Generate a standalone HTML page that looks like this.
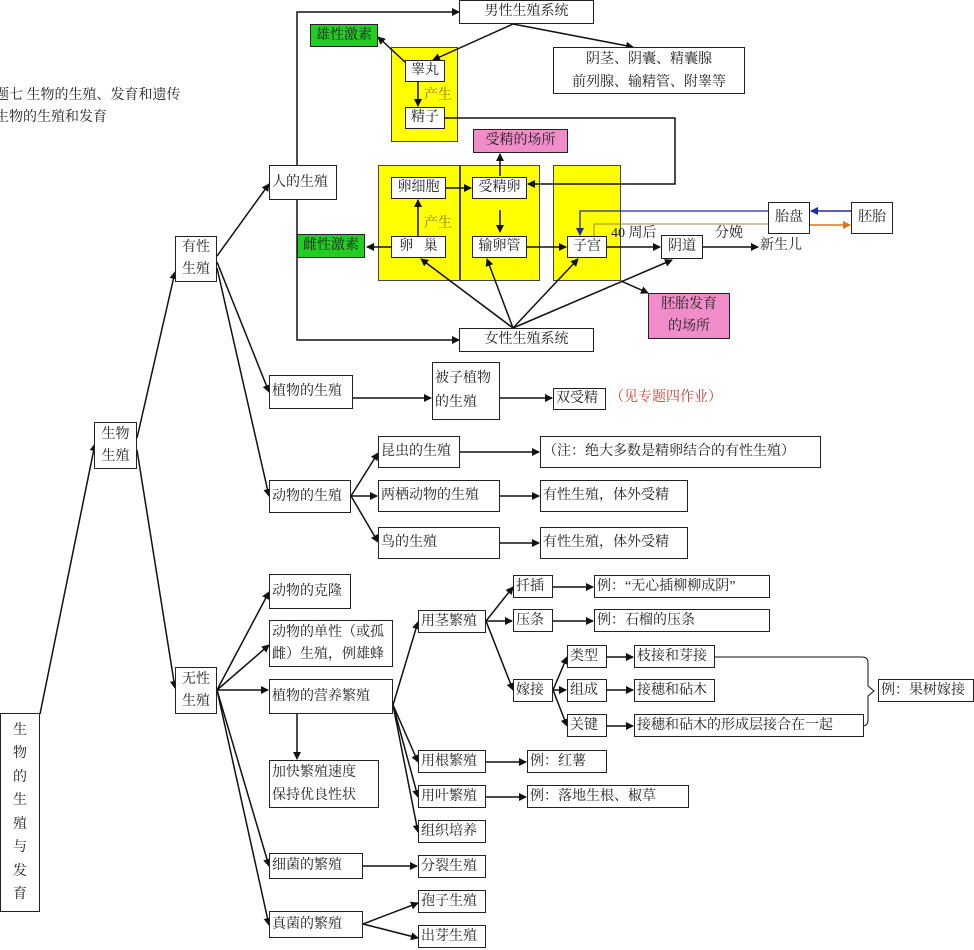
<!DOCTYPE html>
<html><head><meta charset="utf-8"><style>
body{margin:0;width:974px;height:950px;background:#fff;position:relative;overflow:hidden;font-family:"Liberation Serif","Noto Serif CJK SC",serif;font-size:14px;color:#222}
.b{position:absolute;border:1px solid #222;background:#fff;box-sizing:border-box;padding:0 2px;line-height:20px;white-space:nowrap;display:flex;align-items:center}
.y{position:absolute;background:#ffff00;border:1px solid #444;box-sizing:border-box}
.g{background:#22cc22}
.p{background:#f08cc8}
.c{justify-content:center;text-align:center}
.t{position:absolute;white-space:nowrap;line-height:20px}
svg{position:absolute;left:0;top:0}
</style></head><body>
<div class="y" style="left:391px;top:47px;width:67px;height:95px"></div>
<div class="y" style="left:378px;top:165px;width:82px;height:116px"></div>
<div class="y" style="left:460px;top:165px;width:80px;height:116px"></div>
<div class="y" style="left:553px;top:165px;width:68px;height:116px"></div>
<div class="t" style="left:-5px;top:86px">题七 生物的生殖、发育和遗传</div>
<div class="t" style="left:-5px;top:108px">生物的生殖和发育</div>
<div class="t" style="left:424px;top:86px;color:#8a7a00">产生</div>
<div class="t" style="left:424px;top:214px;color:#8a7a00">产生</div>
<svg width="974" height="950">
<defs><marker id="a" markerWidth="8" markerHeight="8" refX="7" refY="4" orient="auto" markerUnits="userSpaceOnUse"><path d="M0,0L8,4L0,8z" fill="#111"/></marker>
<marker id="bl" markerWidth="8" markerHeight="8" refX="7" refY="4" orient="auto" markerUnits="userSpaceOnUse"><path d="M0,0L8,4L0,8z" fill="#1a2fa0"/></marker>
<marker id="or" markerWidth="8" markerHeight="8" refX="7" refY="4" orient="auto" markerUnits="userSpaceOnUse"><path d="M0,0L8,4L0,8z" fill="#e07020"/></marker></defs>
<g stroke="#111" stroke-width="1.5" fill="none" marker-end="url(#a)">
<path d="M297,165V12H459"/><path d="M297,200V340H459"/>
<path d="M513,24L433,60"/><path d="M513,24L633,47"/>
<path d="M405,62L378,37"/><path d="M418,82V106"/>
<path d="M445,118H675V184H528"/>
<path d="M446,188H471"/><path d="M500,210V232"/><path d="M500,176V154"/>
<path d="M418,236V200"/><path d="M391,247H367"/><path d="M527,247H566"/>
<path d="M607,247H660"/><path d="M703,247H758"/>
<path d="M621,281L648,293"/>
<path d="M513,328L421,259"/><path d="M513,328L487,259"/><path d="M513,328L578,259"/><path d="M513,328L672,260"/>
<path d="M40,714L95,444"/><path d="M137,438L175,272"/><path d="M137,450L175,688"/>
<path d="M217,256L269,184"/><path d="M217,262L269,392"/><path d="M217,268L269,496"/>
<path d="M353,398H431"/><path d="M500,398H552"/>
<path d="M351,496L378,453"/><path d="M351,496H377"/><path d="M351,496L378,542"/>
<path d="M460,452H539"/><path d="M500,496H539"/><path d="M500,543H539"/>
<path d="M217,690L269,592"/><path d="M217,690L269,645"/><path d="M217,690H268"/><path d="M217,690L269,866"/><path d="M217,690L269,925"/>
<path d="M297,714V759"/>
<path d="M393,705L418,622"/><path d="M393,705L418,762"/><path d="M393,705L418,797"/><path d="M393,705L418,832"/>
<path d="M363,866H417"/><path d="M363,924L418,903"/><path d="M363,924L418,938"/>
<path d="M486,621L513,587"/><path d="M486,621H512"/><path d="M486,621L513,690"/>
<path d="M553,587H593"/><path d="M553,621H593"/>
<path d="M553,690L567,657"/><path d="M553,690H566"/><path d="M553,690L567,726"/>
<path d="M607,657H633"/><path d="M607,690H633"/><path d="M607,726H633"/>
<path d="M486,762H526"/><path d="M486,797H526"/>
</g>
<path d="M715,657H862Q868,657 868,663V686L874,691L868,696V720Q868,726 862,726" stroke="#111" stroke-width="1" fill="none"/>
<path d="M768,211H580V235" stroke="#1a2fa0" stroke-width="1.3" fill="none" marker-end="url(#bl)"/>
<path d="M851,211H811" stroke="#1a2fa0" stroke-width="1.5" fill="none" marker-end="url(#bl)"/>
<path d="M594,236V224H768" stroke="#a08050" stroke-width="1" fill="none"/>
<path d="M810,225H850" stroke="#e07020" stroke-width="1.5" fill="none" marker-end="url(#or)"/>
</svg>
<div class="b c" style="left:459px;top:0;width:135px;height:24px">男性生殖系统</div>
<div class="b c g" style="left:310px;top:24px;width:68px;height:23px">雄性激素</div>
<div class="b c" style="left:405px;top:60px;width:40px;height:22px">睾丸</div>
<div class="b c" style="left:405px;top:107px;width:40px;height:22px">精子</div>
<div class="b c" style="left:553px;top:47px;width:192px;height:47px;white-space:normal;line-height:23px">阴茎、阴囊、精囊腺<br>前列腺、输精管、附睾等</div>
<div class="b c p" style="left:473px;top:129px;width:95px;height:24px">受精的场所</div>
<div class="b" style="left:269px;top:165px;width:68px;height:35px">人的生殖</div>
<div class="b c" style="left:391px;top:177px;width:55px;height:22px">卵细胞</div>
<div class="b c" style="left:472px;top:177px;width:55px;height:22px">受精卵</div>
<div class="b c" style="left:391px;top:236px;width:55px;height:22px">卵&nbsp;&nbsp;&nbsp;巢</div>
<div class="b c" style="left:472px;top:236px;width:55px;height:22px">输卵管</div>
<div class="b c" style="left:567px;top:236px;width:40px;height:22px">子宫</div>
<div class="b c g" style="left:297px;top:234px;width:68px;height:24px">雌性激素</div>
<div class="b c" style="left:661px;top:235px;width:42px;height:24px">阴道</div>
<div class="b c" style="left:768px;top:202px;width:42px;height:32px">胎盘</div>
<div class="b c" style="left:851px;top:202px;width:42px;height:32px">胚胎</div>
<div class="t" style="left:611px;top:224px">40 周后</div>
<div class="t" style="left:715px;top:224px">分娩</div>
<div class="t" style="left:760px;top:236px">新生儿</div>
<div class="b c p" style="left:648px;top:293px;width:82px;height:46px;white-space:normal;line-height:22px">胚胎发育<br>的场所</div>
<div class="b c" style="left:459px;top:328px;width:135px;height:24px">女性生殖系统</div>
<div class="b c" style="left:175px;top:236px;width:42px;height:46px;white-space:normal;line-height:22px">有性<br>生殖</div>
<div class="b c" style="left:94px;top:422px;width:43px;height:47px;white-space:normal;line-height:22px">生物<br>生殖</div>
<div class="b c" style="left:175px;top:667px;width:42px;height:47px;white-space:normal;line-height:22px">无性<br>生殖</div>
<div class="b c" style="left:0;top:713px;width:40px;height:199px;white-space:normal;line-height:23.5px">生<br>物<br>的<br>生<br>殖<br>与<br>发<br>育</div>
<div class="b" style="left:269px;top:375px;width:84px;height:34px">植物的生殖</div>
<div class="b" style="left:432px;top:362px;width:68px;height:58px;white-space:normal;line-height:24px">被子植物<br>的生殖</div>
<div class="b" style="left:553px;top:388px;width:53px;height:22px">双受精</div>
<div class="t" style="left:610px;top:388px;color:#c84030">（见专题四作业）</div>
<div class="b" style="left:269px;top:480px;width:82px;height:33px">动物的生殖</div>
<div class="b" style="left:378px;top:436px;width:82px;height:32px">昆虫的生殖</div>
<div class="b" style="left:378px;top:480px;width:122px;height:32px">两栖动物的生殖</div>
<div class="b" style="left:378px;top:527px;width:122px;height:32px">鸟的生殖</div>
<div class="b" style="left:540px;top:436px;width:281px;height:32px">（注：绝大多数是精卵结合的有性生殖）</div>
<div class="b" style="left:540px;top:480px;width:148px;height:32px">有性生殖，体外受精</div>
<div class="b" style="left:540px;top:527px;width:148px;height:32px">有性生殖，体外受精</div>
<div class="b" style="left:269px;top:574px;width:82px;height:35px">动物的克隆</div>
<div class="b" style="left:269px;top:620px;width:124px;height:47px;white-space:normal;line-height:22px">动物的单性（或孤<br>雌）生殖，例雄蜂</div>
<div class="b" style="left:269px;top:679px;width:124px;height:35px">植物的营养繁殖</div>
<div class="b" style="left:269px;top:760px;width:110px;height:48px;white-space:normal;line-height:23px">加快繁殖速度<br>保持优良性状</div>
<div class="b" style="left:269px;top:853px;width:94px;height:26px">细菌的繁殖</div>
<div class="b" style="left:269px;top:911px;width:94px;height:27px">真菌的繁殖</div>
<div class="b" style="left:418px;top:610px;width:68px;height:23px">用茎繁殖</div>
<div class="b" style="left:513px;top:575px;width:40px;height:23px">扦插</div>
<div class="b" style="left:594px;top:575px;width:176px;height:23px">例：“无心插柳柳成阴”</div>
<div class="b" style="left:513px;top:609px;width:40px;height:23px">压条</div>
<div class="b" style="left:594px;top:609px;width:176px;height:23px">例：石榴的压条</div>
<div class="b" style="left:513px;top:679px;width:40px;height:23px">嫁接</div>
<div class="b" style="left:567px;top:645px;width:40px;height:23px">类型</div>
<div class="b" style="left:634px;top:645px;width:81px;height:23px">枝接和芽接</div>
<div class="b" style="left:567px;top:679px;width:40px;height:23px">组成</div>
<div class="b" style="left:634px;top:679px;width:81px;height:23px">接穗和砧木</div>
<div class="b" style="left:567px;top:714px;width:40px;height:23px">关键</div>
<div class="b" style="left:634px;top:714px;width:230px;height:23px">接穗和砧木的形成层接合在一起</div>
<div class="b" style="left:878px;top:679px;width:96px;height:23px">例：果树嫁接</div>
<div class="b" style="left:418px;top:750px;width:68px;height:23px">用根繁殖</div>
<div class="b" style="left:527px;top:750px;width:80px;height:23px">例：红薯</div>
<div class="b" style="left:418px;top:785px;width:68px;height:23px">用叶繁殖</div>
<div class="b" style="left:527px;top:785px;width:162px;height:23px">例：落地生根、椒草</div>
<div class="b" style="left:418px;top:820px;width:68px;height:23px">组织培养</div>
<div class="b" style="left:418px;top:855px;width:68px;height:23px">分裂生殖</div>
<div class="b" style="left:418px;top:890px;width:68px;height:23px">孢子生殖</div>
<div class="b" style="left:418px;top:925px;width:68px;height:23px">出芽生殖</div>
</body></html>
